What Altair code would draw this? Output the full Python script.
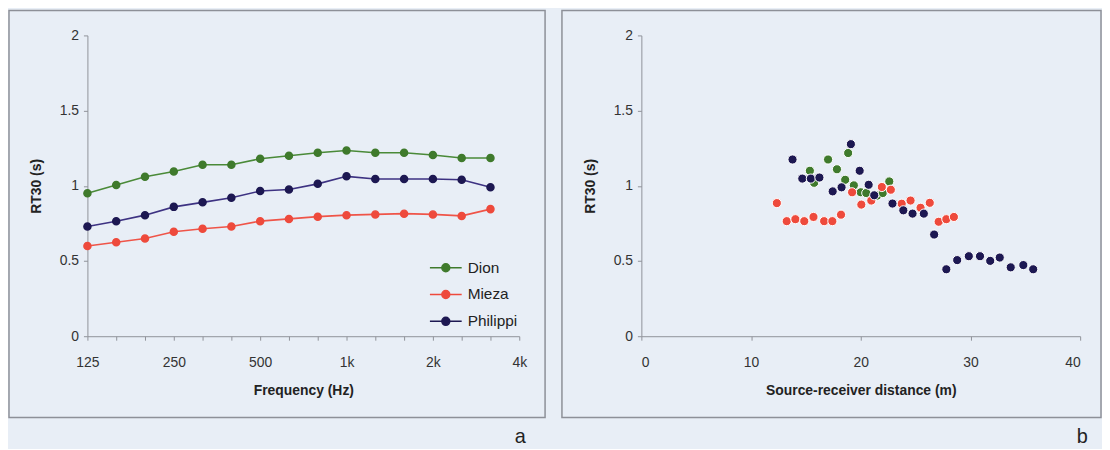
import json
import altair as alt
import pandas as pd

FONT = "Liberation Sans"

# ---------------- data ----------------
sites = ["Dion", "Mieza", "Philippi"]
bands = ["125", "160", "200", "250", "315", "400", "500", "630", "800",
         "1k", "1.25k", "1.6k", "2k", "2.5k", "3.15k", "4k"]
octave_labels = ["125", "250", "500", "1k", "2k", "4k"]
data_bands = bands[:15]

dion_rt = [0.95, 1.005, 1.06, 1.095, 1.14, 1.14, 1.18, 1.20, 1.22, 1.235, 1.22, 1.22, 1.205, 1.185, 1.185]
mieza_rt = [0.60, 0.625, 0.65, 0.695, 0.715, 0.73, 0.765, 0.78, 0.795, 0.805, 0.81, 0.815, 0.81, 0.80, 0.845]
philippi_rt = [0.73, 0.765, 0.805, 0.86, 0.89, 0.92, 0.965, 0.975, 1.013, 1.063, 1.045, 1.045, 1.045, 1.04, 0.99]

dion_dist = [15.36, 15.75, 17.02, 17.83, 18.58, 18.85, 19.37, 20.0, 20.5, 21.5, 22.0, 22.6]
dion_t30 = [1.10, 1.02, 1.175, 1.11, 1.04, 1.218, 1.003, 0.957, 0.952, 0.935, 0.952, 1.029]

mieza_dist = [12.35, 13.25, 14.04, 14.85, 15.69, 16.66, 17.41, 18.2, 19.21, 20.05, 20.96, 21.92,
              22.74, 23.73, 24.54, 25.45, 26.29, 27.1, 27.8, 28.49]
mieza_t30 = [0.885, 0.765, 0.778, 0.765, 0.793, 0.765, 0.765, 0.808, 0.957, 0.875, 0.902, 0.992,
             0.974, 0.881, 0.902, 0.854, 0.887, 0.761, 0.778, 0.793]

philippi_dist = [13.78, 14.67, 15.45, 16.23, 17.44, 18.25, 19.1, 19.9, 20.72, 21.23, 22.89, 23.88,
                 24.72, 25.75, 26.69, 27.8, 28.79, 29.85, 30.87, 31.8, 32.67, 33.67, 34.82, 35.72]
philippi_t30 = [1.175, 1.048, 1.048, 1.055, 0.963, 0.99, 1.277, 1.10, 1.007, 0.937, 0.882, 0.837,
                0.815, 0.815, 0.676, 0.445, 0.506, 0.532, 0.532, 0.501, 0.523, 0.458, 0.473, 0.445]

panel_letters = ["a", "b"]
y_ticks = [0, 0.5, 1, 1.5, 2]
dist_ticks = [0, 10, 20, 30, 40]

marker_colors = ["#3f7a2c", "#ee4a3c", "#1d1852"]
line_colors = ["#4a8a38", "#ef5448", "#3d3282"]

# ---------------- tables ----------------
freq_df = pd.DataFrame({
    "band": data_bands * 3,
    "site": [s for s in sites for _ in data_bands],
    "rt": dion_rt + mieza_rt + philippi_rt,
})
freq_df["line_site"] = freq_df["site"]
dist_df = pd.DataFrame({
    "dist": dion_dist + mieza_dist + philippi_dist,
    "t30": dion_t30 + mieza_t30 + philippi_t30,
    "site": ["Dion"] * len(dion_dist) + ["Mieza"] * len(mieza_dist) + ["Philippi"] * len(philippi_dist),
})

W1, W2, H = 435, 442, 303

y_axis = alt.Axis(values=y_ticks, format="~g", grid=False, title="RT30 (s)",
                  tickSize=4, labelPadding=5, titlePadding=16)
y_enc = lambda f: alt.Y(f, scale=alt.Scale(domain=[0, 2], nice=False), axis=y_axis)

label_expr = "indexof(" + json.dumps(octave_labels).replace('"', "'") + ", datum.value) >= 0 ? datum.value : ''"
x_band = alt.X("band:N", sort=bands,
               scale=alt.Scale(type="point", domain=bands, padding=0),
               axis=alt.Axis(title="Frequency (Hz)", labelExpr=label_expr, labelAngle=0,
                             tickSize=4, labelPadding=16, titlePadding=14, labelOverlap=False))

def frame_layer(letter, left, right, lx):
    df = pd.DataFrame({"panel": [letter]})
    rect = alt.Chart(df).mark_rect(filled=False, stroke="#8d9098", strokeWidth=1.5).encode(
        x=alt.value(left), x2=alt.value(right), y=alt.value(-25), y2=alt.value(385))
    txt = alt.Chart(df).mark_text(fontSize=20, font=FONT, color="#222222", baseline="middle").encode(
        x=alt.value(lx), y=alt.value(405), text="panel:N")
    return rect, txt

sym = "M-1,0L1,0M0.25,0A0.25,0.25,0,1,1,-0.25,0A0.25,0.25,0,1,1,0.25,0Z"
leg = alt.Legend(title=None, orient="none", legendX=344, legendY=217, symbolType=sym,
                 symbolSize=1024, symbolStrokeWidth=1.5, labelFontSize=15.5, labelFont=FONT,
                 labelColor="#222222", rowPadding=1, labelOffset=5, padding=0)

lines = alt.Chart(freq_df).mark_line(strokeWidth=1.6).encode(
    x=x_band, y=y_enc("rt:Q"),
    color=alt.Color("line_site:N", scale=alt.Scale(range=line_colors), legend=None))
pts = alt.Chart(freq_df).mark_circle(size=50, opacity=1, strokeWidth=1.5).encode(
    x=x_band, y=y_enc("rt:Q"),
    fill=alt.Fill("site:N", scale=alt.Scale(domain=sites, range=marker_colors), legend=leg),
    stroke=alt.Stroke("site:N", scale=alt.Scale(domain=sites, range=marker_colors), legend=leg))
fa, ta = frame_layer(panel_letters[0], -79, W1 + 26, W1 + 1)
left = alt.layer(fa, lines, pts, ta).properties(width=W1, height=H)

scatter = alt.Chart(dist_df).mark_circle(size=85, opacity=1, stroke="white", strokeWidth=1).encode(
    x=alt.X("dist:Q", scale=alt.Scale(domain=[0, 40], nice=False),
            axis=alt.Axis(values=dist_ticks, grid=False, title="Source-receiver distance (m)",
                          tickSize=4, labelPadding=16, titlePadding=14)),
    y=y_enc("t30:Q"),
    color=alt.Color("site:N", scale=alt.Scale(domain=sites, range=marker_colors), legend=None),
    order=alt.Order("site:N"))
fb, tb = frame_layer(panel_letters[1], -80, W2 + 21, W2 + 2)
right = alt.layer(fb, scatter, tb).properties(width=W2, height=H)

chart = alt.hconcat(left, right, spacing=15, padding=0).resolve_scale(
    color="independent", fill="independent", stroke="independent"
).configure(background="#e8eef6").configure_view(stroke=None).configure_axis(
    domainColor="#8f9299", tickColor="#8f9299", labelColor="#333333", labelFont=FONT,
    labelFontSize=14, titleFont=FONT, titleFontSize=14, titleFontWeight="bold",
    titleColor="#222222")

chart.save("out.html", embed_options={"renderer": "svg", "actions": False})
